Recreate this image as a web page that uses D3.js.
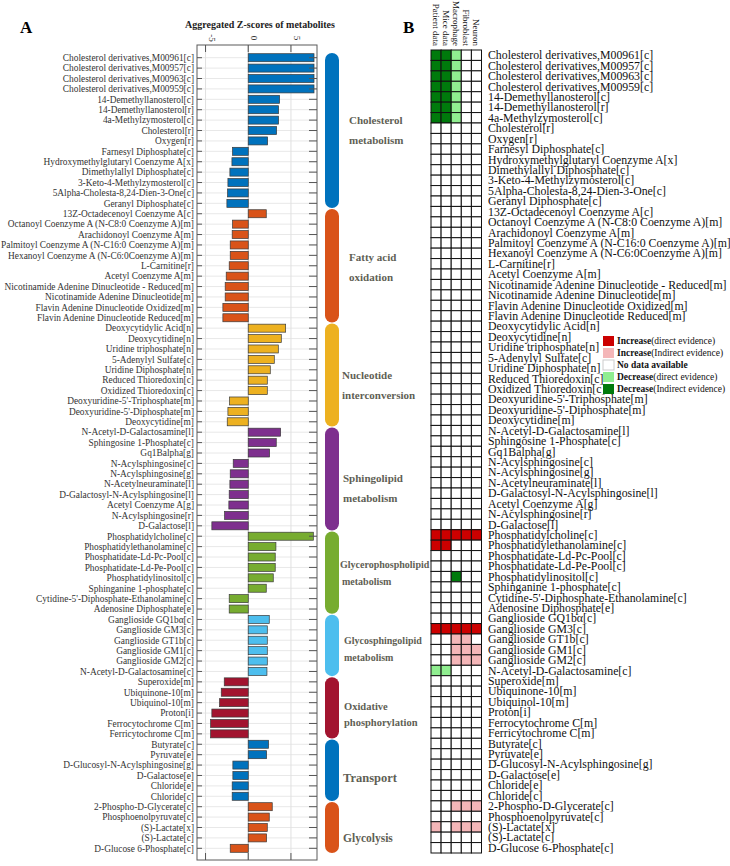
<!DOCTYPE html>
<html><head><meta charset="utf-8">
<script src="https://cdn.jsdelivr.net/npm/d3@7"></script>
<style>
body{margin:0;background:#fff;}
svg{display:block;font-family:"Liberation Serif","Times New Roman",serif;}
</style>
</head><body>
<svg id="chart" width="730" height="866"></svg>
<script>
const metabolites = [
"Cholesterol derivatives,M00961[c]","Cholesterol derivatives,M00957[c]","Cholesterol derivatives,M00963[c]","Cholesterol derivatives,M00959[c]",
"14-Demethyllanosterol[c]","14-Demethyllanosterol[r]","4a-Methylzymosterol[c]","Cholesterol[r]","Oxygen[r]",
"Farnesyl Diphosphate[c]","Hydroxymethylglutaryl Coenzyme A[x]","Dimethylallyl Diphosphate[c]","3-Keto-4-Methylzymosterol[c]",
"5Alpha-Cholesta-8,24-Dien-3-One[c]","Geranyl Diphosphate[c]",
"13Z-Octadecenoyl Coenzyme A[c]","Octanoyl Coenzyme A (N-C8:0 Coenzyme A)[m]","Arachidonoyl Coenzyme A[m]",
"Palmitoyl Coenzyme A (N-C16:0 Coenzyme A)[m]","Hexanoyl Coenzyme A (N-C6:0Coenzyme A)[m]","L-Carnitine[r]","Acetyl Coenzyme A[m]",
"Nicotinamide Adenine Dinucleotide - Reduced[m]","Nicotinamide Adenine Dinucleotide[m]","Flavin Adenine Dinucleotide Oxidized[m]",
"Flavin Adenine Dinucleotide Reduced[m]",
"Deoxycytidylic Acid[n]","Deoxycytidine[n]","Uridine triphosphate[n]","5-Adenylyl Sulfate[c]","Uridine Diphosphate[n]",
"Reduced Thioredoxin[c]","Oxidized Thioredoxin[c]","Deoxyuridine-5'-Triphosphate[m]","Deoxyuridine-5'-Diphosphate[m]","Deoxycytidine[m]",
"N-Acetyl-D-Galactosamine[l]","Sphingosine 1-Phosphate[c]","Gq1Balpha[g]","N-Acylsphingosine[c]","N-Acylsphingosine[g]",
"N-Acetylneuraminate[l]","D-Galactosyl-N-Acylsphingosine[l]","Acetyl Coenzyme A[g]","N-Acylsphingosine[r]","D-Galactose[l]",
"Phosphatidylcholine[c]","Phosphatidylethanolamine[c]","Phosphatidate-Ld-Pc-Pool[c]","Phosphatidate-Ld-Pe-Pool[c]",
"Phosphatidylinositol[c]","Sphinganine 1-phosphate[c]","Cytidine-5'-Diphosphate-Ethanolamine[c]","Adenosine Diphosphate[e]",
"Ganglioside GQ1bα[c]","Ganglioside GM3[c]","Ganglioside GT1b[c]","Ganglioside GM1[c]","Ganglioside GM2[c]","N-Acetyl-D-Galactosamine[c]",
"Superoxide[m]","Ubiquinone-10[m]","Ubiquinol-10[m]","Proton[i]","Ferrocytochrome C[m]","Ferricytochrome C[m]",
"Butyrate[c]","Pyruvate[e]","D-Glucosyl-N-Acylsphingosine[g]","D-Galactose[e]","Chloride[e]","Chloride[c]",
"2-Phospho-D-Glycerate[c]","Phosphoenolpyruvate[c]","(S)-Lactate[x]","(S)-Lactate[c]","D-Glucose 6-Phosphate[c]"
];
const zscores = [
7.7,7.7,7.7,7.7,3.67,3.55,3.55,3.32,2.27,-1.84,-1.91,-2.15,-2.38,-2.42,-2.5,
2.11,-1.84,-1.88,-2.11,-2.11,-2.23,-2.58,-2.7,-2.7,-2.97,-2.97,
4.38,3.87,3.52,3.05,2.58,2.23,2.23,-2.19,-2.38,-2.46,
3.79,3.28,2.5,-1.76,-2.11,-2.15,-2.23,-2.27,-2.77,-4.26,
7.62,3.24,3.16,3.16,2.93,2.11,-2.23,-2.23,
2.46,2.23,2.23,2.23,2.23,2.19,
-2.81,-3.16,-3.36,-4.26,-4.41,-4.41,
2.38,2.15,-1.8,-1.8,-1.88,-1.88,
2.81,2.46,2.23,2.15,-2.11
];
const pathwayNames = [
["Cholesterol","metabolism"],["Fatty acid","oxidation"],["Nucleotide","interconversion"],["Sphingolipid","metabolism"],
["Glycerophospholipid","metabolism"],["Glycosphingolipid"," metabolism"],["Oxidative","phosphorylation"],["Transport"],["Glycolysis"]
];
const pathwaySizes = [15,11,10,10,8,6,6,6,5];
const pathwayColors = ["#0072BD","#D95319","#EDB120","#7E2F8E","#77AC30","#4DBEEE","#A2142F","#0072BD","#D95319"];
const xTicks = [-5,0,5];
const evidenceColumns = ["Patient data","Mice data","Macrophage","Fibroblast","Neuron"];
// codes per row index: I increase direct, i increase indirect, D dark green, d light green, 0 none
const evidence = {
0:"DDd00",1:"DDd00",2:"DDd00",3:"DDd00",4:"DDd00",5:"DDd00",6:"DDd00",
46:"IIIII",47:"II000",50:"00D00",55:"IIIII",56:"00ii0",57:"00iii",58:"00iii",59:"dd000",
72:"00iii",74:"i0iii"
};
const codeColors = {I:"#CC0000",i:"#F4B6B8",D:"#007A0C",d:"#90EE90","0":"#FFFFFF"};
const legendItems = [
{code:"I",bold:"Increase",rest:"(direct evidence)"},
{code:"i",bold:"Increase",rest:"(Indirect evidence)"},
{code:"0",bold:"No data available",rest:""},
{code:"d",bold:"Decrease",rest:"(direct evidence)"},
{code:"D",bold:"Decrease",rest:"(Indirect evidence)"}
];

const svg = d3.select("#chart");
const n = metabolites.length;
const groupOf = [];
pathwaySizes.forEach((s,g)=>{for(let k=0;k<s;k++) groupOf.push(g);});

// ---------- Panel A ----------
const x = d3.scaleLinear().domain([-6,8.05]).range([197,317]);
const yA = d3.scaleBand().domain(d3.range(n)).range([52.5,853.5]).paddingInner(0.23).paddingOuter(0.115);
const boxTop = 45, boxBot = 860;

svg.append("text").attr("x",20).attr("y",33).attr("font-size",17).attr("font-weight","bold").text("A");
svg.append("text").attr("x",260).attr("y",28).attr("text-anchor","middle").attr("font-size",10)
  .attr("font-weight","bold").attr("fill","#222").text("Aggregated Z-scores of metabolites");

const gA = svg.append("g");
gA.selectAll("line.hg").data(d3.range(n)).join("line")
  .attr("x1",x.range()[0]).attr("x2",x.range()[1])
  .attr("y1",d=>yA(d)+yA.bandwidth()/2).attr("y2",d=>yA(d)+yA.bandwidth()/2)
  .attr("stroke","#e8e8e8").attr("stroke-width",1);
gA.selectAll("line.vg").data(xTicks).join("line")
  .attr("x1",d=>x(d)).attr("x2",d=>x(d)).attr("y1",boxTop).attr("y2",boxBot)
  .attr("stroke",d=>d===0?"#bdbdbd":"#e0e0e0").attr("stroke-width",1);
gA.selectAll("rect.bar").data(zscores).join("rect")
  .attr("x",d=>x(Math.min(0,d))).attr("width",d=>Math.abs(x(d)-x(0)))
  .attr("y",(d,i)=>yA(i)).attr("height",yA.bandwidth())
  .attr("fill",(d,i)=>pathwayColors[groupOf[i]]).attr("stroke","#3a3a3a").attr("stroke-width",0.7);
gA.append("rect").attr("x",x.range()[0]).attr("y",boxTop).attr("width",x.range()[1]-x.range()[0])
  .attr("height",boxBot-boxTop).attr("fill","none").attr("stroke","#5a5a5a").attr("stroke-width",1);
gA.selectAll("line.ytl").data(d3.range(n)).join("line")
  .attr("x1",x.range()[0]).attr("x2",x.range()[0]+5)
  .attr("y1",d=>yA(d)+yA.bandwidth()/2).attr("y2",d=>yA(d)+yA.bandwidth()/2).attr("stroke","#555");
gA.selectAll("line.ytr").data(d3.range(n)).join("line")
  .attr("x1",x.range()[1]-8).attr("x2",x.range()[1])
  .attr("y1",d=>yA(d)+yA.bandwidth()/2).attr("y2",d=>yA(d)+yA.bandwidth()/2).attr("stroke","#555");
xTicks.forEach(t=>{
  gA.append("line").attr("x1",x(t)).attr("x2",x(t)).attr("y1",boxTop).attr("y2",boxTop+7).attr("stroke","#555");
  gA.append("line").attr("x1",x(t)).attr("x2",x(t)).attr("y1",boxBot-7).attr("y2",boxBot).attr("stroke","#555");
});
gA.selectAll("text.xt").data(xTicks).join("text")
  .attr("transform",d=>`translate(${x(d)+3},38) rotate(90)`)
  .attr("text-anchor","middle").attr("font-size",9).attr("fill","#333").text(d=>d);
gA.selectAll("text.yl").data(metabolites).join("text")
  .attr("x",194).attr("y",(d,i)=>yA(i)+yA.bandwidth()/2).attr("dy","0.35em")
  .attr("text-anchor","end").attr("font-size",9.4).attr("fill","#333").text(d=>d);

const step = yA.step();
const starts = []; let acc=0; pathwaySizes.forEach(s=>{starts.push(acc); acc+=s;});
const rangeStart = yA.range()[0];
const labelX = [349,349,342,343,340,344,344,343,343];
const labelDy = [-10,-9,0,-1,-8,-5,-2,7,10];
const labelGap = [20,20,20,20,17,17,16,0,0];
const labelSize = [11,11,11,11,10,10,10.5,12.5,11.5];
pathwaySizes.forEach((s,g)=>{
  const top = rangeStart + starts[g]*step, bot = rangeStart + (starts[g]+s)*step;
  svg.append("rect").attr("x",325).attr("width",14).attr("y",top+0.5).attr("height",bot-top-1)
    .attr("rx",7).attr("ry",7).attr("fill",pathwayColors[g]);
  const mid = (top+bot)/2;
  pathwayNames[g].forEach((line,li)=>{
    svg.append("text").attr("x",labelX[g]+(g===4&&li===1?2:0)).attr("y",mid+labelDy[g]+li*labelGap[g])
      .attr("dy","0.35em").attr("font-size",labelSize[g]).attr("font-weight","bold")
      .attr("fill","#5f5f55").text(line);
  });
});

// ---------- Panel B ----------
svg.append("text").attr("x",403).attr("y",33).attr("font-size",17).attr("font-weight","bold").text("B");
const xB = d3.scaleBand().domain(d3.range(evidenceColumns.length)).range([431,481.5]);
const yB = d3.scaleBand().domain(d3.range(n)).range([50,853]);
const cells = [];
for(let r=0;r<n;r++) for(let c=0;c<evidenceColumns.length;c++){
  const code = evidence[r] ? evidence[r][c] : "0";
  cells.push({r,c,code});
}
const gB = svg.append("g");
gB.selectAll("rect.cell").data(cells).join("rect")
  .attr("x",d=>xB(d.c)).attr("y",d=>yB(d.r)).attr("width",xB.bandwidth()).attr("height",yB.bandwidth())
  .attr("fill",d=>codeColors[d.code]).attr("stroke","#111").attr("stroke-width",1);
gB.selectAll("text.hdr").data(evidenceColumns).join("text")
  .attr("transform",(d,i)=>`translate(${xB(i)+xB.bandwidth()/2-3.2},46) rotate(90)`)
  .attr("text-anchor","end").attr("font-size",9).attr("fill","#111").text(d=>d);
gB.selectAll("text.rl").data(metabolites).join("text")
  .attr("x",488).attr("y",(d,i)=>yB(i)+yB.bandwidth()/2).attr("dy","0.35em")
  .attr("font-size",11.8).attr("fill","#111").text(d=>d);

const lg = svg.append("g");
legendItems.forEach((it,k)=>{
  const yy = 341 + k*12;
  lg.append("rect").attr("x",603).attr("y",yy-5).attr("width",11).attr("height",10)
    .attr("fill",codeColors[it.code]).attr("stroke",it.code==="0"?"#ccc":"none");
  const t = lg.append("text").attr("x",617).attr("y",yy).attr("dy","0.35em").attr("font-size",9.5).attr("fill","#111");
  t.append("tspan").attr("font-weight","bold").text(it.bold);
  if(it.rest) t.append("tspan").text(it.rest);
});
</script>
</body></html>
